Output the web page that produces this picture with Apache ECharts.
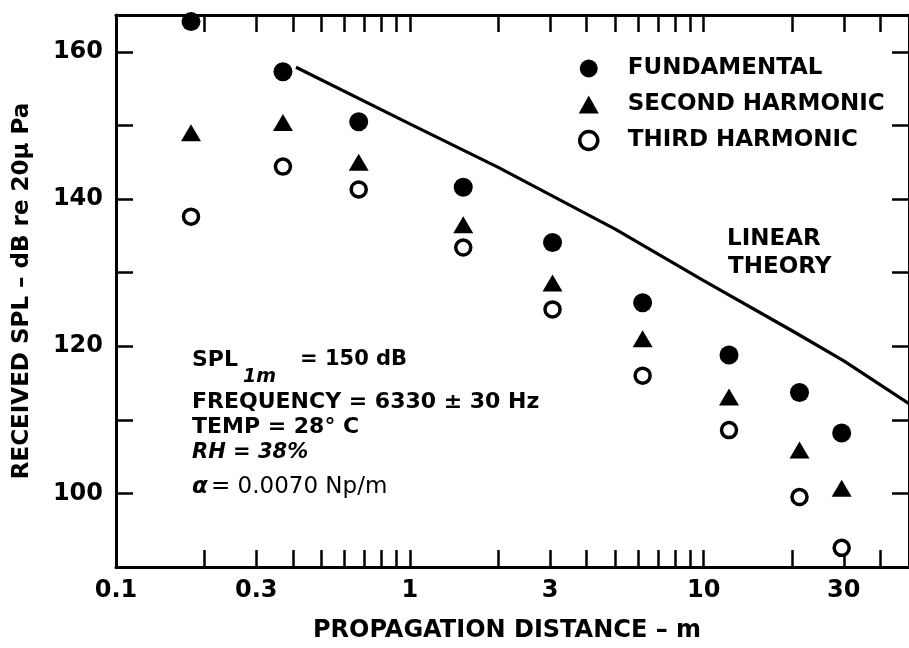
<!DOCTYPE html>
<html><head><meta charset="utf-8">
<script src="https://cdn.jsdelivr.net/npm/echarts@6/dist/echarts.min.js"></script>
<style>html,body{margin:0;padding:0;background:#fff}#c{width:909px;height:648px}</style>
</head><body><div id="c"></div>
<script>
// ---- data ----
const distance = [0.18, 0.37, 0.67, 1.52, 3.06, 6.2, 12.2, 21.2, 29.5];
const fundamental = [164.1, 157.3, 150.5, 141.6, 134.1, 125.9, 118.8, 113.7, 108.2];
const secondHarmonic = [149.0, 150.4, 145.0, 136.5, 128.6, 121.0, 113.1, 105.9, 100.7];
const thirdHarmonic = [137.6, 144.4, 141.3, 133.4, 125.0, 116.0, 108.6, 99.5, 92.6];
const theoryDistance = [0.41, 1, 2, 5, 10, 20, 30, 50];
const theorySPL = [157.9, 150.2, 144.3, 135.9, 128.9, 122.1, 118.0, 112.2];
const xTickValues = [0.1,0.2,0.3,0.4,0.5,0.6,0.7,0.8,0.9,1,2,3,4,5,6,7,8,9,10,20,30,40,50];
const xLabelValues = [0.1, 0.3, 1, 3, 10, 30];
const yLabelValues = [100, 120, 140, 160];
const seriesNames = ['FUNDAMENTAL', 'SECOND HARMONIC', 'THIRD HARMONIC'];

const FF = 'DejaVu Sans';
const pair = (xs, ys) => xs.map((x, i) => [x, ys[i]]);
const fmtX = v => String(parseFloat(Number(v).toPrecision(2)));

const chart = echarts.init(document.getElementById('c'));
const axisLine = {show: true, lineStyle: {color: '#000', width: 3}};
const tick = {show: true, inside: true, length: 17, lineStyle: {color: '#000', width: 2.5}};

chart.setOption({
  animation: false,
  backgroundColor: '#fff',
  grid: {left: 116, right: -8, top: 15, bottom: 81},
  xAxis: [{
    type: 'log', logBase: 10, min: 0.1, max: 50, position: 'bottom',
    axisLine: axisLine,
    axisTick: Object.assign({customValues: xTickValues}, tick),
    axisLabel: {customValues: xLabelValues, formatter: fmtX, margin: 12,
      fontFamily: FF, fontWeight: 'bold', fontSize: 24, color: '#000'},
    splitLine: {show: false}, minorTick: {show: false},
    name: 'PROPAGATION DISTANCE – m', nameLocation: 'middle', nameGap: 52,
    nameTextStyle: {fontFamily: FF, fontWeight: 'bold', fontSize: 24, color: '#000', padding: [0, 11, 0, 0]}
  }, {
    type: 'log', logBase: 10, min: 0.1, max: 50, position: 'top',
    axisLine: axisLine,
    axisTick: Object.assign({customValues: xTickValues}, tick),
    axisLabel: {show: false}, splitLine: {show: false}
  }],
  yAxis: [{
    type: 'value', min: 90, max: 165, interval: 10, position: 'left',
    axisLine: axisLine, axisTick: tick,
    axisLabel: {margin: 13, fontFamily: FF, fontWeight: 'bold', fontSize: 24, color: '#000',
      formatter: v => yLabelValues.indexOf(v) >= 0 ? String(v) : ''},
    splitLine: {show: false},
    name: 'RECEIVED SPL – dB re 20μ Pa', nameLocation: 'middle', nameGap: 82, nameRotate: 90,
    nameTextStyle: {fontFamily: FF, fontWeight: 'bold', fontSize: 23, color: '#000'}
  }, {
    type: 'value', min: 90, max: 165, interval: 10, position: 'right',
    axisLine: axisLine, axisTick: tick, axisLabel: {show: false}, splitLine: {show: false}
  }],
  legend: {
    orient: 'vertical', left: 573, top: 52, itemWidth: 20, itemHeight: 18, itemGap: 13,
    textStyle: {fontFamily: FF, fontWeight: 'bold', fontSize: 23, color: '#000', lineHeight: 20, padding: [0, 0, 0, 24]},
    selectedMode: false,
    data: [
      {name: seriesNames[0], icon: 'circle', itemStyle: {color: '#000', borderWidth: 0, opacity: 1}},
      {name: seriesNames[1], icon: 'triangle', itemStyle: {color: '#000', borderWidth: 0, opacity: 1}},
      {name: seriesNames[2], icon: 'circle', itemStyle: {color: '#fff', borderColor: '#000', borderWidth: 3.5, opacity: 1}}
    ]
  },
  series: [
    {name: 'LINEAR THEORY', type: 'line', data: pair(theoryDistance, theorySPL), showSymbol: false,
      lineStyle: {color: '#000', width: 3.2}, silent: true, z: 1},
    {name: seriesNames[0], type: 'scatter', data: pair(distance, fundamental), symbol: 'circle', symbolSize: 19,
      itemStyle: {color: '#000', opacity: 1}, z: 3},
    {name: seriesNames[1], type: 'scatter', data: pair(distance, secondHarmonic), symbol: 'triangle', symbolSize: [20, 17],
      itemStyle: {color: '#000', opacity: 1}, z: 3},
    {name: seriesNames[2], type: 'scatter', data: pair(distance, thirdHarmonic), symbol: 'circle', symbolSize: 15,
      itemStyle: {color: '#fff', borderColor: '#000', borderWidth: 3.5, opacity: 1}, z: 3}
  ],
  graphic: [
    {type: 'text', x: 727, y: 239, style: {text: 'LINEAR', font: 'bold 23px "DejaVu Sans"', fill: '#000', verticalAlign: 'middle'}},
    {type: 'text', x: 728, y: 267, style: {text: 'THEORY', font: 'bold 23px "DejaVu Sans"', fill: '#000', verticalAlign: 'middle'}},
    {type: 'text', x: 192, y: 360, style: {text: 'SPL', font: 'bold 22px "DejaVu Sans"', fill: '#000', verticalAlign: 'middle'}},
    {type: 'text', x: 243, y: 377, style: {text: '1m', font: 'italic bold 19px "DejaVu Sans"', fill: '#000', verticalAlign: 'middle'}},
    {type: 'text', x: 300, y: 360, style: {text: '= 150 dB', font: 'bold 21px "DejaVu Sans"', fill: '#000', verticalAlign: 'middle'}},
    {type: 'text', x: 192, y: 402, style: {text: 'FREQUENCY = 6330 ± 30 Hz', font: 'bold 22px "DejaVu Sans"', fill: '#000', verticalAlign: 'middle'}},
    {type: 'text', x: 192, y: 427, style: {text: 'TEMP = 28° C', font: 'bold 22px "DejaVu Sans"', fill: '#000', verticalAlign: 'middle'}},
    {type: 'text', x: 192, y: 453, style: {text: 'RH = 38%', font: 'italic bold 21px "DejaVu Sans"', fill: '#000', verticalAlign: 'middle'}},
    {type: 'text', x: 192, y: 487, style: {text: 'α', font: 'italic bold 23px "DejaVu Sans"', fill: '#000', verticalAlign: 'middle'}},
    {type: 'text', x: 211, y: 487, style: {text: '= 0.0070 Np/m', font: '23px "DejaVu Sans"', fill: '#000', verticalAlign: 'middle'}}
  ]
});
</script></body></html>
